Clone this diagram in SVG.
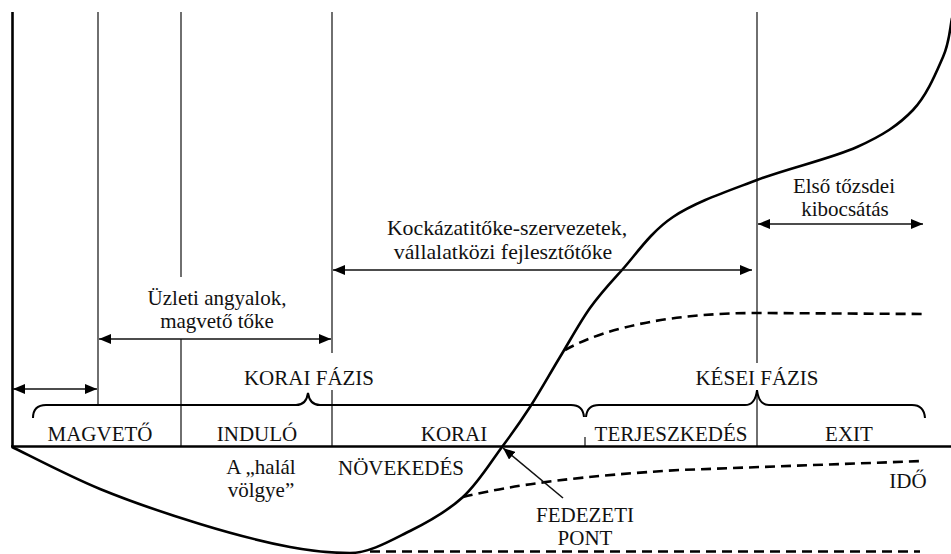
<svg xmlns="http://www.w3.org/2000/svg" width="951" height="554" viewBox="0 0 951 554" font-family="'Liberation Serif', 'DejaVu Serif', serif">
<style>
text{font-family:'Liberation Serif','DejaVu Serif',serif;font-size:21px;fill:#111}
.c{text-anchor:middle}
.big{font-size:21.8px}
.grid{stroke:#333;stroke-width:1.4;fill:none}
.axis{stroke:#000;stroke-width:2.6;fill:none}
.brace{stroke:#000;stroke-width:2;fill:none}
.curve{stroke:#000;stroke-width:2.6;fill:none}
.dash{stroke:#000;stroke-width:2.6;fill:none;stroke-dasharray:10 6}
.arr{stroke:#111;stroke-width:1.6;fill:none;marker-start:url(#ah);marker-end:url(#ah)}
.ptr{stroke:#111;stroke-width:1.6;fill:none;marker-end:url(#ah)}
</style>
<defs>
<marker id="ah" viewBox="0 0 12 10" markerWidth="12" markerHeight="10" refX="12" refY="5" orient="auto-start-reverse" markerUnits="userSpaceOnUse">
<path d="M0,0 L12,5 L0,10 z" fill="#000"/>
</marker>
</defs>
<rect width="951" height="554" fill="#fff"/>
<g id="grid">
<line class="grid" x1="98" y1="12" x2="98" y2="405"/>
<line class="grid" x1="181" y1="12" x2="181" y2="277"/>
<line class="grid" x1="181" y1="339" x2="181" y2="446"/>
<line class="grid" x1="332" y1="12" x2="332" y2="353"/>
<line class="grid" x1="332" y1="390" x2="332" y2="446"/>
<line class="grid" x1="757" y1="12" x2="757" y2="363"/>
<line class="grid" x1="757" y1="390" x2="757" y2="446"/>
<line class="grid" x1="585" y1="437" x2="585" y2="446"/>
</g>
<g id="axes">
<line class="axis" x1="12.5" y1="12" x2="12.5" y2="447"/>
<line class="axis" x1="11" y1="446.5" x2="951" y2="446.5"/>
</g>
<g id="brace-korai">
<path class="brace" d="M33,418 Q33,405 46,405 L296,405 C303,405 307,400 308,393 C309,400 313,405 320,405 L571,405 Q583,405 584,417"/>
<text class="c" x="309" y="385">KORAI FÁZIS</text>
</g>
<g id="brace-kesei">
<path class="brace" d="M586,417 Q587,405 599,405 L745,405 C752,405 756,399 757,390 C758,399 762,405 769,405 L912,405 Q924,405 925,418"/>
<text class="c" x="757" y="385">KÉSEI FÁZIS</text>
</g>
<g id="phases">
<text class="c" x="100" y="441">MAGVETŐ</text>
<text class="c" x="257" y="441">INDULÓ</text>
<text class="c" x="454" y="441">KORAI</text>
<text class="c" x="671" y="441">TERJESZKEDÉS</text>
<text class="c" x="849" y="441">EXIT</text>
</g>
<g id="curves">
<path class="curve" d="M12,447 C26.7,454 68.7,476.2 100,489 C131.3,501.8 168.3,514.3 200,524 C231.7,533.7 265,542.2 290,547 C315,551.8 330,553 350,553 C370,553 391.2,540.3 410,531 C428.8,521.7 447.7,511 463,497 C478.3,483 490.8,462 502,447 C513.2,432 520.3,422 530,407 C539.7,392 550,373.5 560,357 C570,340.5 579.7,322.5 590,308 C600.3,293.5 608.2,285.2 622,270 C635.8,254.8 650.5,232 673,217 C695.5,202 726.3,191.7 757,180 C787.7,168.3 831,158.7 857,147 C883,135.3 898.7,125 913,110 C927.3,95 936.7,71.2 943,57 C949.3,42.8 949.7,30.3 952,18"/>
<path class="dash" d="M565,350 C610,325 680,313 757,313 L925,314"/>
<path class="dash" d="M463,497 Q540,478 680,470 L923,461"/>
<line class="dash" x1="370" y1="551.5" x2="920" y2="551.5"/>
</g>
<g id="connectors">
<line class="arr" x1="13" y1="389" x2="97" y2="389"/>
<line class="arr" x1="99" y1="339" x2="331" y2="339"/>
<line class="arr" x1="333" y1="270" x2="752" y2="270"/>
<line class="arr" x1="758" y1="224" x2="923" y2="224"/>
<line class="ptr" x1="563" y1="498" x2="503" y2="448"/>
</g>
<g id="label-angyalok">
<text class="c" x="217" y="305">Üzleti angyalok,</text>
<text class="c" x="217" y="328">magvető tőke</text>
</g>
<g id="label-kockazati">
<text class="c big" x="507" y="235">Kockázatitőke-szervezetek,</text>
<text class="c big" x="503" y="259">vállalatközi fejlesztőtőke</text>
</g>
<g id="label-tozsde">
<text class="c" x="844" y="193">Első tőzsdei</text>
<text class="c" x="845" y="216">kibocsátás</text>
</g>
<g id="label-halal">
<text class="c" x="261" y="474">A „halál</text>
<text class="c" x="261" y="497">völgye”</text>
</g>
<g id="label-novekedes">
<text x="338" y="475">NÖVEKEDÉS</text>
</g>
<g id="label-fedezeti">
<text class="c" x="585" y="522">FEDEZETI</text>
<text class="c" x="585" y="545">PONT</text>
</g>
<g id="label-ido">
<text class="c" x="908" y="488">IDŐ</text>
</g>
</svg>
